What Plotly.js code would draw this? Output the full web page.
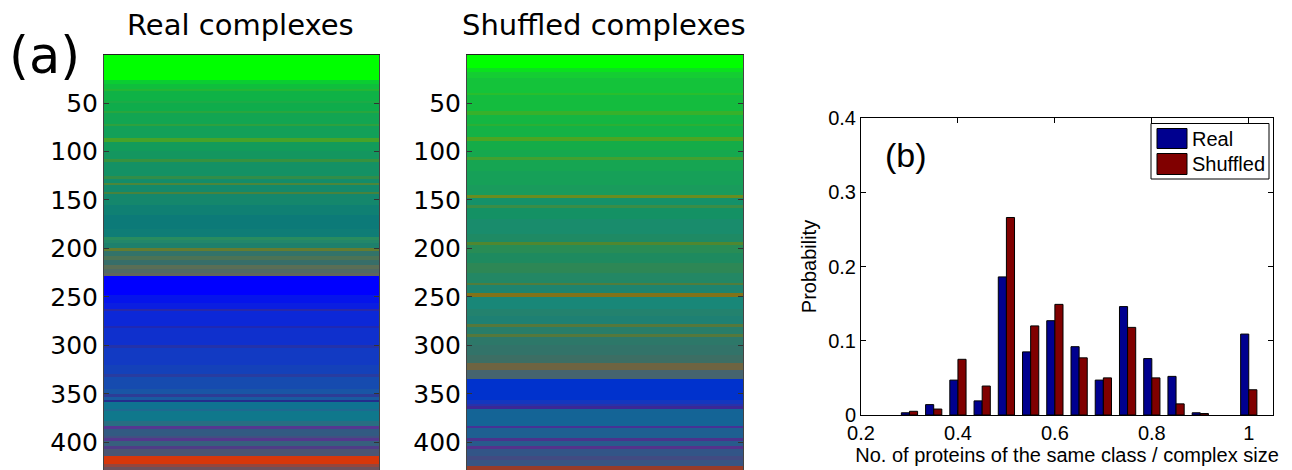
<!DOCTYPE html>
<html>
<head>
<meta charset="utf-8">
<script src="https://cdn.plot.ly/plotly-3.0.1.min.js"></script>
<style>
  html, body { margin: 0; padding: 0; background: #ffffff; }
  #chart { width: 1292px; height: 470px; }
</style>
</head>
<body>
<div id="chart"></div>
<script>
// ---------------- Panel (a): row colour bands (row edges + colour per band) ----------------
const realEdges = [0.5, 26.5, 30, 36, 38, 48, 50, 58, 60, 72, 74, 86, 90, 100, 108, 111, 125, 128, 132, 135, 142, 144,
  155, 165, 180, 188, 191, 194, 200, 203, 208, 212, 217, 221, 225, 228, 248, 256, 262, 264, 280, 282, 300, 303, 320,
  330, 333, 345, 350, 353, 356, 358, 366, 368, 378, 383, 386, 393, 396, 399, 404, 407, 414, 422, 425, 428.5];
const realColors = ['rgb(0,255,0)', 'rgb(10,205,50)', 'rgb(15,190,60)', 'rgb(35,182,52)', 'rgb(15,178,70)', 'rgb(28,171,70)',
  'rgb(15,172,75)', 'rgb(40,166,62)', 'rgb(18,165,82)', 'rgb(45,161,62)', 'rgb(18,160,88)', 'rgb(70,163,40)',
  'rgb(18,155,90)', 'rgb(20,150,95)', 'rgb(55,146,62)', 'rgb(20,145,100)', 'rgb(50,141,72)', 'rgb(20,140,105)',
  'rgb(75,135,58)', 'rgb(20,137,106)', 'rgb(70,131,62)', 'rgb(20,135,108)', 'rgb(15,128,115)', 'rgb(12,122,120)',
  'rgb(15,125,118)', 'rgb(40,140,95)', 'rgb(35,135,105)', 'rgb(30,128,108)', 'rgb(100,124,48)', 'rgb(50,115,105)',
  'rgb(75,115,85)', 'rgb(55,110,105)', 'rgb(90,110,85)', 'rgb(80,105,100)', 'rgb(95,100,95)', 'rgb(0,0,255)',
  'rgb(5,20,235)', 'rgb(10,30,225)', 'rgb(40,40,170)', 'rgb(12,40,215)', 'rgb(30,40,180)', 'rgb(15,48,205)',
  'rgb(35,50,170)', 'rgb(18,58,195)', 'rgb(20,65,185)', 'rgb(40,60,160)', 'rgb(22,75,175)', 'rgb(25,85,165)',
  'rgb(45,60,150)', 'rgb(25,90,160)', 'rgb(35,45,140)', 'rgb(15,115,145)', 'rgb(30,105,145)', 'rgb(15,120,140)',
  'rgb(40,110,130)', 'rgb(85,55,145)', 'rgb(50,90,130)', 'rgb(65,80,130)', 'rgb(85,55,140)', 'rgb(55,95,125)',
  'rgb(80,60,135)', 'rgb(75,85,115)', 'rgb(215,55,10)', 'rgb(150,70,60)', 'rgb(110,80,90)'];

const shufEdges = [0.5, 14, 18, 24, 40, 42, 58, 62, 72, 74, 85, 89, 98, 106, 109, 120, 135, 145, 148, 155, 158, 170, 185,
  193, 196, 205, 215, 225, 236, 238, 246, 250, 262, 270, 278, 281, 288, 291, 300, 310, 318, 325, 335, 356, 360, 363,
  366, 383, 385, 396, 399, 404, 407, 414, 418, 424, 428.5];
const shufColors = ['rgb(0,255,0)', 'rgb(10,225,30)', 'rgb(20,205,50)', 'rgb(20,195,58)', 'rgb(40,190,45)', 'rgb(20,188,62)',
  'rgb(55,177,42)', 'rgb(20,182,66)', 'rgb(42,176,52)', 'rgb(20,178,70)', 'rgb(75,166,34)', 'rgb(20,172,72)',
  'rgb(22,168,78)', 'rgb(65,161,48)', 'rgb(22,165,82)', 'rgb(22,160,88)', 'rgb(25,155,92)', 'rgb(105,141,32)',
  'rgb(20,145,105)', 'rgb(58,141,70)', 'rgb(20,145,100)', 'rgb(25,140,108)', 'rgb(30,138,100)', 'rgb(80,135,48)',
  'rgb(40,140,85)', 'rgb(30,138,95)', 'rgb(45,135,85)', 'rgb(35,135,100)', 'rgb(80,125,60)', 'rgb(30,132,110)',
  'rgb(130,115,25)', 'rgb(25,135,120)', 'rgb(35,130,110)', 'rgb(30,128,115)', 'rgb(85,120,60)', 'rgb(40,125,105)',
  'rgb(85,120,60)', 'rgb(45,120,105)', 'rgb(50,115,105)', 'rgb(60,110,100)', 'rgb(110,100,65)', 'rgb(70,100,110)',
  'rgb(0,50,205)', 'rgb(20,55,190)', 'rgb(40,50,170)', 'rgb(60,40,150)', 'rgb(20,100,150)', 'rgb(70,50,150)',
  'rgb(30,95,145)', 'rgb(75,50,140)', 'rgb(40,90,140)', 'rgb(85,50,140)', 'rgb(50,85,135)', 'rgb(65,75,130)',
  'rgb(55,85,130)', 'rgb(150,60,40)'];

const rowTicks = [50, 100, 150, 200, 250, 300, 350, 400];
const rowTickLabels = ['50', '100', '150', '200', '250', '300', '350', '400'];

// ---------------- Panel (b): histogram ----------------
const binCenters   = [0.30, 0.35, 0.40, 0.45, 0.50, 0.55, 0.60, 0.65, 0.70, 0.75, 0.80, 0.85, 0.90, 1.00];
const realProb     = [0.003, 0.014, 0.047, 0.019, 0.186, 0.085, 0.127, 0.092, 0.047, 0.146, 0.076, 0.052, 0.003, 0.109];
const shuffledProb = [0.005, 0.008, 0.075, 0.039, 0.266, 0.120, 0.149, 0.077, 0.050, 0.118, 0.050, 0.015, 0.002, 0.034];
const probTicks = [0, 0.1, 0.2, 0.3, 0.4];
const probTickLabels = ['0', '0.1', '0.2', '0.3', '0.4'];
const ratioTicks = [0.2, 0.4, 0.6, 0.8, 1];
const ratioTickLabels = ['0.2', '0.4', '0.6', '0.8', '1'];

const seriesNames = ['Real', 'Shuffled'];
const seriesColors = ['#00008f', '#800000'];

// ------------------------------------------------------
function bandHeatmap(edges, colors, xa, ya) {
  const n = colors.length;
  const z = colors.map((c, i) => [i]);
  const colorscale = colors.map((c, i) => [i / (n - 1), c]);
  return {
    type: 'heatmap', x: [0, 1], y: edges, z: z,
    colorscale: colorscale, zmin: 0, zmax: n - 1, zsmooth: false,
    showscale: false, hoverinfo: 'skip', xaxis: xa, yaxis: ya
  };
}

const W = 1292, H = 470;
const px = v => v / W;
const py = v => 1 - v / H;

const leftFont = { family: 'DejaVu Sans, sans-serif', size: 25, color: '#000' };
const rightFont = { family: 'Liberation Sans, Arial, sans-serif', size: 20, color: '#000' };
const titleFont = { family: 'DejaVu Sans, sans-serif', size: 29, color: '#000' };

const traces = [
  bandHeatmap(realEdges, realColors, 'x', 'y'),
  bandHeatmap(shufEdges, shufColors, 'x2', 'y2'),
  { type: 'bar', name: seriesNames[0], x: binCenters, y: realProb, xaxis: 'x3', yaxis: 'y3',
    marker: { color: seriesColors[0], line: { color: '#000', width: 1 } }, showlegend: false },
  { type: 'bar', name: seriesNames[1], x: binCenters, y: shuffledProb, xaxis: 'x3', yaxis: 'y3',
    marker: { color: seriesColors[1], line: { color: '#000', width: 1 } }, showlegend: false }
];

function imgX(dom, anchor) {
  return { domain: dom, anchor: anchor, range: [0, 1], showticklabels: false, ticks: '', showgrid: false,
    zeroline: false, showline: true, mirror: true, linecolor: '#222', linewidth: 1, fixedrange: true };
}
function imgY(anchor) {
  return { domain: [0, py(55)], anchor: anchor, range: [428.5, 0.5], tickmode: 'array', tickvals: rowTicks,
    ticktext: rowTickLabels, ticks: 'inside', ticklen: 5, tickcolor: '#333', mirror: 'ticks', showline: true,
    linecolor: '#444', linewidth: 1, showgrid: false, zeroline: false, tickfont: leftFont, fixedrange: true };
}

const layout = {
  width: W, height: H,
  margin: { l: 0, r: 0, t: 0, b: 0 },
  paper_bgcolor: '#fff', plot_bgcolor: '#fff',
  showlegend: false,
  barmode: 'group', bargap: 0.33, bargroupgap: 0,
  xaxis: imgX([px(104), px(379)], 'y'),
  yaxis: imgY('x'),
  xaxis2: imgX([px(467), px(743)], 'y2'),
  yaxis2: imgY('x2'),
  xaxis3: {
    domain: [px(861), px(1273)], anchor: 'y3', range: [0.2, 1.05], tickmode: 'array', tickvals: ratioTicks,
    ticktext: ratioTickLabels, ticks: 'inside', ticklen: 5, tickcolor: '#000', mirror: 'ticks', showline: true,
    linecolor: '#000', linewidth: 1, showgrid: false, zeroline: false, tickfont: rightFont,
    title: { text: 'No. of proteins of the same class / complex size', font: rightFont, standoff: 0 }
  },
  yaxis3: {
    domain: [py(415), py(118)], anchor: 'x3', range: [0, 0.4], tickmode: 'array', tickvals: probTicks,
    ticktext: probTickLabels, ticks: 'inside', ticklen: 5, tickcolor: '#000', mirror: 'ticks', showline: true,
    linecolor: '#000', linewidth: 1, showgrid: false, zeroline: false, tickfont: rightFont,
    title: { text: 'Probability', font: rightFont, standoff: 6 }
  },
  annotations: [
    { xref: 'paper', yref: 'paper', x: px(241), y: py(25), text: 'Real complexes', showarrow: false,
      xanchor: 'center', yanchor: 'middle', font: titleFont },
    { xref: 'paper', yref: 'paper', x: px(604), y: py(25), text: 'Shuffled complexes', showarrow: false,
      xanchor: 'center', yanchor: 'middle', font: titleFont },
    { xref: 'paper', yref: 'paper', x: px(44), y: py(55), text: '(a)', showarrow: false,
      xanchor: 'center', yanchor: 'middle', font: { family: 'DejaVu Sans, sans-serif', size: 51, color: '#000' } },
    { xref: 'paper', yref: 'paper', x: px(906), y: py(155), text: '(b)', showarrow: false,
      xanchor: 'center', yanchor: 'middle', font: { family: 'Liberation Sans, Arial, sans-serif', size: 34, color: '#000' } },
    { xref: 'paper', yref: 'paper', x: px(1190), y: py(138.5), text: seriesNames[0], showarrow: false,
      xanchor: 'left', yanchor: 'middle', font: rightFont },
    { xref: 'paper', yref: 'paper', x: px(1190), y: py(164), text: seriesNames[1], showarrow: false,
      xanchor: 'left', yanchor: 'middle', font: rightFont }
  ],
  shapes: [
    // legend frame
    { type: 'rect', xref: 'paper', yref: 'paper', x0: px(1151), x1: px(1269), y0: py(179), y1: py(123.5),
      line: { color: '#000', width: 1 }, fillcolor: '#fff' },
    { type: 'rect', xref: 'paper', yref: 'paper', x0: px(1157), x1: px(1187), y0: py(148.5), y1: py(128.5),
      line: { color: '#000', width: 1 }, fillcolor: seriesColors[0] },
    { type: 'rect', xref: 'paper', yref: 'paper', x0: px(1157), x1: px(1187), y0: py(174.5), y1: py(153.5),
      line: { color: '#000', width: 1 }, fillcolor: seriesColors[1] }
  ]
};

Plotly.newPlot('chart', traces, layout, { staticPlot: true, displayModeBar: false });
</script>
</body>
</html>
